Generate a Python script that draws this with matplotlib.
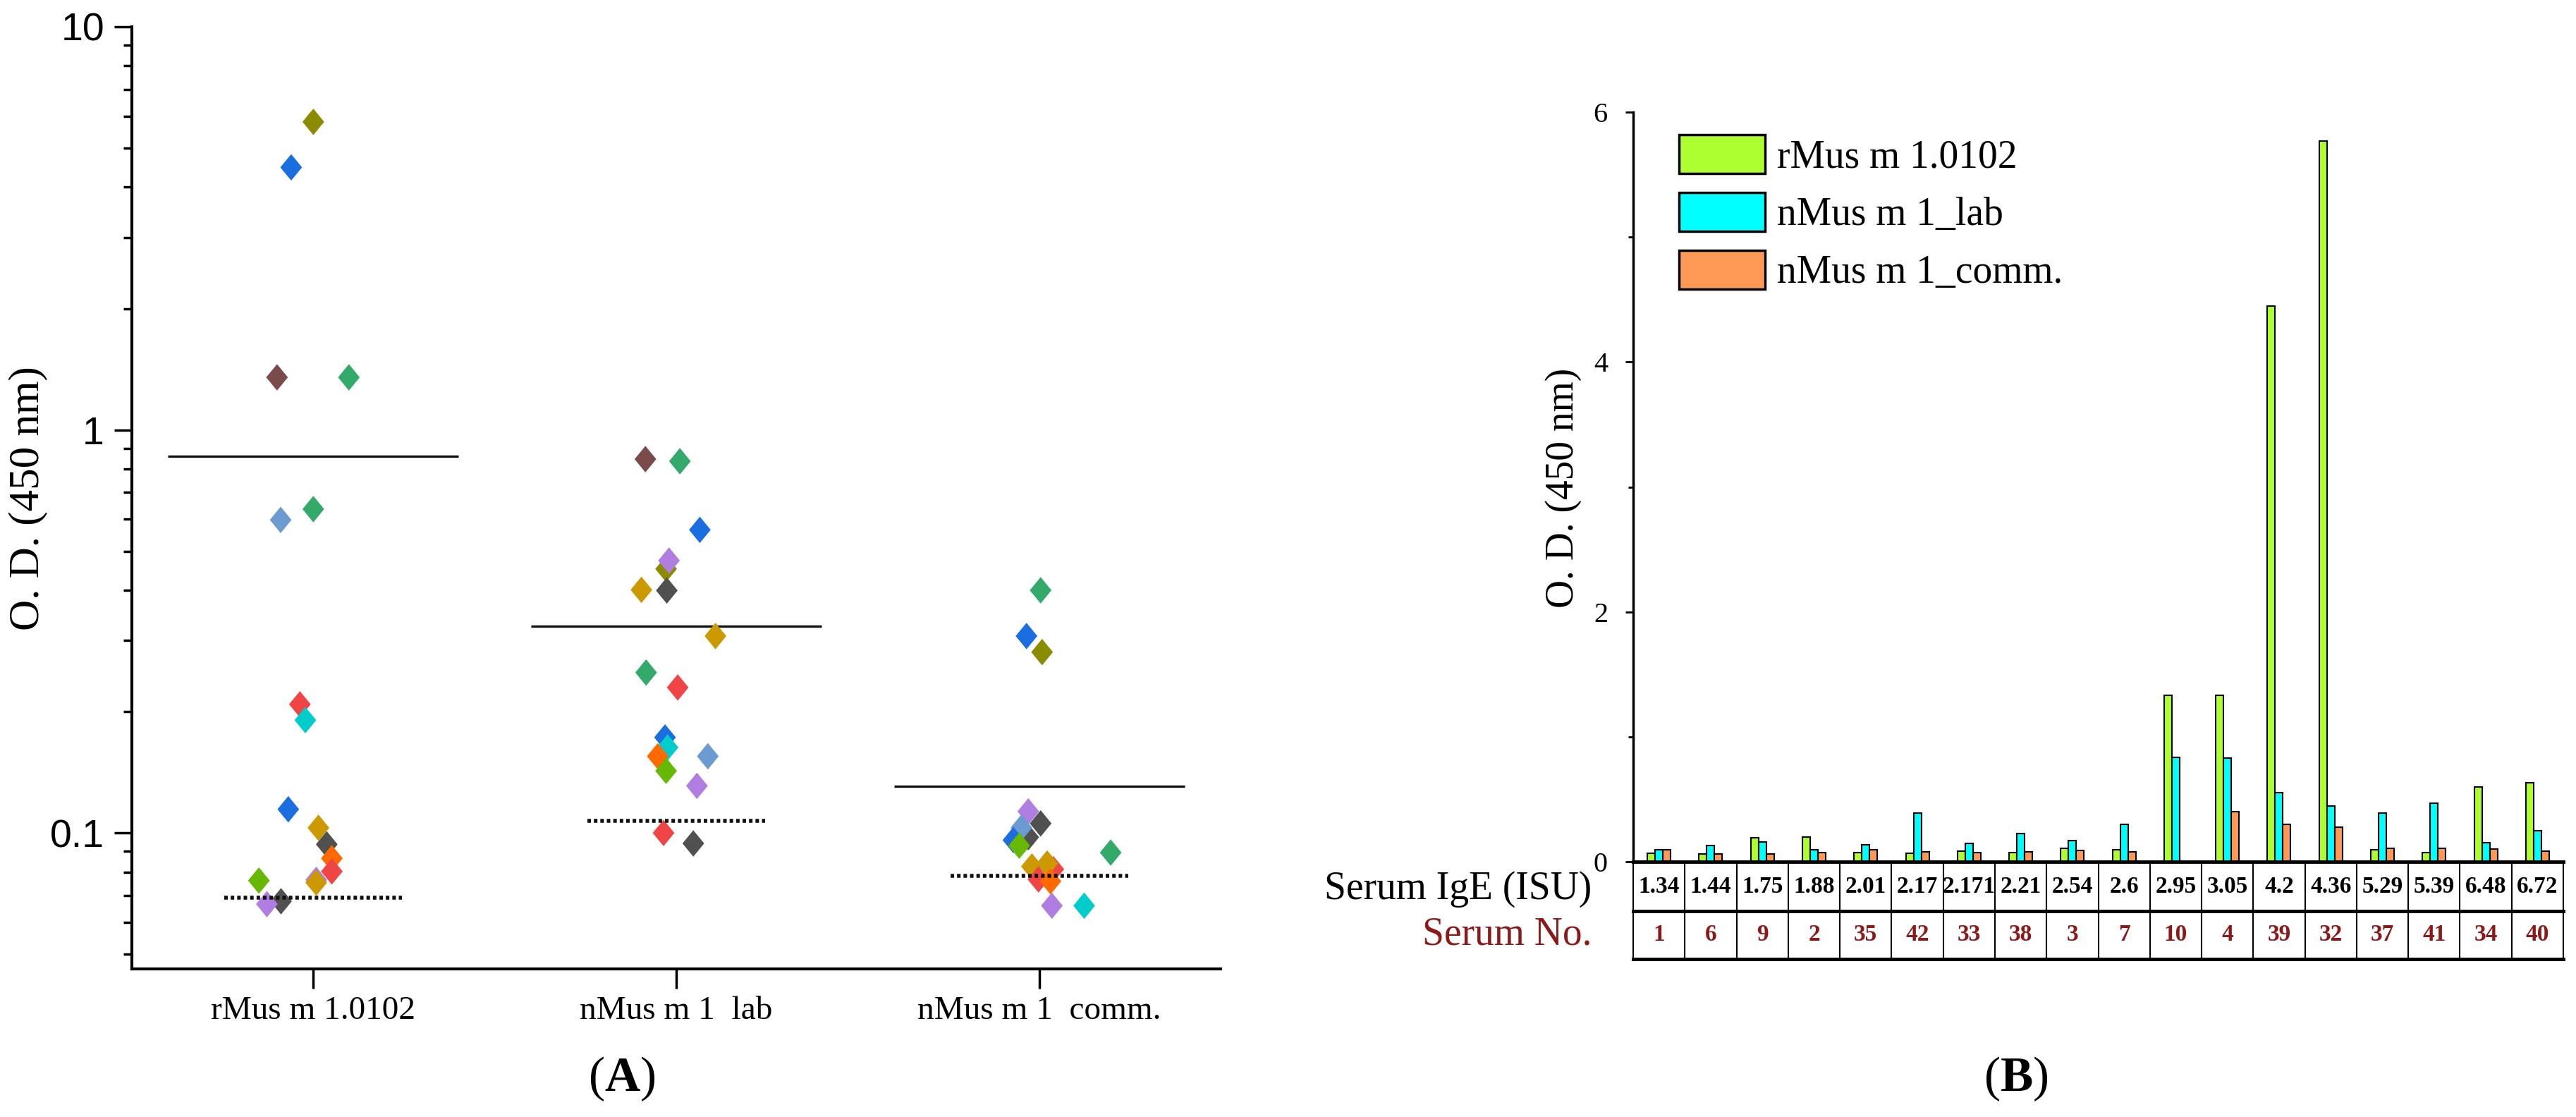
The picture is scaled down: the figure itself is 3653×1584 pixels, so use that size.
import numpy as np
import matplotlib
matplotlib.use("Agg")
import matplotlib.pyplot as plt
from matplotlib.path import Path
from matplotlib.ticker import FixedLocator, FixedFormatter, NullFormatter

plt.rcParams['font.family'] = ['Liberation Serif', 'DejaVu Serif']
plt.rcParams['mathtext.fontset'] = 'custom'
plt.rcParams['mathtext.bf'] = 'Liberation Serif:bold'

# ---------------- Panel A data ----------------
categories = ['rMus m 1.0102', 'nMus m 1  lab', 'nMus m 1  comm.']

OL, BL, BR, GR = '#8b8b00', '#1a6ee0', '#7b4b4b', '#33aa6a'
LB, RD, CY, GD = '#6b9bd0', '#f04545', '#00cccc', '#cc9900'
DG, OR, PU, YG = '#505050', '#ff6a00', '#b07ee0', '#66b800'

rmus_vals = [5.81, 4.48, 1.35, 1.35, 0.598, 0.636, 0.2085, 0.1905, 0.1145,
             0.0765, 0.103, 0.0937, 0.0865, 0.0803, 0.0753, 0.0762, 0.0677, 0.0666]
rmus_cols = [OL, BL, BR, GR, LB, GR, RD, CY, BL, PU, GD, DG, OR, RD, GD, YG, DG, PU]
rmus_jit = [0.0, -0.061, -0.10, 0.098, -0.09, 0.0, -0.037, -0.022, -0.069,
            0.008, 0.014, 0.037, 0.051, 0.051, 0.008, -0.15, -0.089, -0.128]

lab_vals = [0.846, 0.836, 0.565, 0.452, 0.474, 0.401, 0.3995, 0.308, 0.250,
            0.2296, 0.1726, 0.163, 0.155, 0.155, 0.1426, 0.1309, 0.100, 0.0942]
lab_cols = [BR, GR, BL, OL, PU, GD, DG, GD, GR, RD, BL, CY, OR, LB, YG, PU, RD, DG]
lab_jit = [-0.085, 0.01, 0.065, -0.028, -0.02, -0.096, -0.026, 0.108, -0.083,
           0.004, -0.031, -0.024, -0.051, 0.087, -0.028, 0.057, -0.035, 0.047]

comm_vals = [0.400, 0.308, 0.281, 0.0976, 0.1131, 0.1056, 0.1031, 0.0960, 0.093,
             0.0894, 0.0813, 0.0826, 0.0840, 0.0767, 0.0759, 0.066, 0.066]
comm_cols = [GR, BL, OL, DG, PU, DG, LB, BL, YG, GR, RD, GD, GD, RD, OR, PU, CY]
comm_jit = [0.004, -0.035, 0.008, -0.03, -0.03, 0.004, -0.049, -0.071, -0.055,
            0.197, 0.039, -0.02, 0.022, -0.002, 0.031, 0.035, 0.124]

group_means = [0.860, 0.326, 0.1305]
group_cutoffs = [0.069, 0.1073, 0.0784]

# ---------------- Panel B data ----------------
serum_ige = ['1.34', '1.44', '1.75', '1.88', '2.01', '2.17', '2.171', '2.21', '2.54',
             '2.6', '2.95', '3.05', '4.2', '4.36', '5.29', '5.39', '6.48', '6.72']
serum_no = ['1', '6', '9', '2', '35', '42', '33', '38', '3',
            '7', '10', '4', '39', '32', '37', '41', '34', '40']
od_rmus = [0.07, 0.063, 0.19, 0.20, 0.073, 0.068, 0.084, 0.073, 0.11,
           0.094, 1.33, 1.33, 4.45, 5.77, 0.094, 0.073, 0.60, 0.63]
od_lab = [0.094, 0.13, 0.16, 0.094, 0.136, 0.39, 0.146, 0.225, 0.167,
          0.30, 0.837, 0.827, 0.555, 0.445, 0.39, 0.47, 0.15, 0.25]
od_comm = [0.094, 0.063, 0.063, 0.073, 0.094, 0.078, 0.073, 0.078, 0.089,
           0.078, 0.0, 0.40, 0.30, 0.277, 0.105, 0.11, 0.10, 0.084]

W, H = 3653, 1584
fig = plt.figure(figsize=(W / 100, H / 100), dpi=100)


def fx(px):
    return px / W


def fy(py):
    return 1 - py / H


# ---------------- Panel A ----------------
diamond = Path([(0, 1), (0.82, 0), (0, -1), (-0.82, 0), (0, 1)], closed=True)

axa = fig.add_axes([fx(187), fy(1374), fx(1731) - fx(187), fy(38) - fy(1374)])
axa.set_yscale('log')
axa.set_xlim(0.5, 3.5)
axa.set_ylim(0.046, 10)

data_a = [(rmus_vals, rmus_cols, rmus_jit),
          (lab_vals, lab_cols, lab_jit),
          (comm_vals, comm_cols, comm_jit)]
for k, (vals, cols, jit) in enumerate(data_a):
    xc = k + 1
    axa.scatter(xc + np.array(jit), vals, marker=diamond, s=27 ** 2, c=cols,
                linewidths=0, zorder=3)
    axa.hlines(group_means[k], xc - 0.40, xc + 0.40, color='#111111', lw=2.4, zorder=2)
    axa.hlines(group_cutoffs[k], xc - 0.245, xc + 0.245, color='#111111', lw=4,
               linestyles=(0, (0.9, 0.75)), zorder=4)

for s in ['top', 'right']:
    axa.spines[s].set_visible(False)
for s in ['left', 'bottom']:
    axa.spines[s].set_linewidth(3)

axa.yaxis.set_major_locator(FixedLocator([0.1, 1, 10]))
axa.yaxis.set_major_formatter(FixedFormatter(['0.1', '1', '10']))
minors = [m * d for d in (0.01, 0.1, 1) for m in range(2, 10)]
axa.yaxis.set_minor_locator(FixedLocator(minors))
axa.yaxis.set_minor_formatter(NullFormatter())
axa.tick_params(axis='y', which='major', direction='out', length=18, width=2.5, pad=10)
axa.tick_params(axis='y', which='minor', direction='out', length=9, width=2.5)
for lab in axa.get_yticklabels():
    lab.set_family(['Liberation Sans Narrow', 'Liberation Sans', 'DejaVu Sans'])
    lab.set_fontsize(40)

axa.set_xticks([1, 2, 3])
axa.set_xticklabels(categories, fontsize=34)
axa.tick_params(axis='x', direction='out', length=20, width=2.5, pad=8)

fig.text(fx(40), fy(707), 'O. D. (450 nm)', rotation=90, ha='center', va='center', fontsize=44)
fig.text(fx(882), fy(1530), r'($\mathbf{A}$)', ha='center', va='center', fontsize=50)

# ---------------- Panel B ----------------
axb = fig.add_axes([fx(2316), fy(1222), fx(3635) - fx(2316), fy(159) - fy(1222)])
x = np.arange(len(serum_no))
bw = 0.15
axb.bar(x - bw, od_rmus, bw, color='#adff2f', edgecolor='black', lw=1.5, label='rMus m 1.0102')
axb.bar(x, od_lab, bw, color='#00ffff', edgecolor='black', lw=1.5, label='nMus m 1_lab')
axb.bar(x + bw, od_comm, bw, color='#ff9955', edgecolor='black', lw=1.5, label='nMus m 1_comm.')
axb.set_xlim(-0.5, len(serum_no) - 0.5)
axb.set_ylim(0, 6)
for s in ['top', 'right']:
    axb.spines[s].set_visible(False)
axb.spines['left'].set_linewidth(2.5)
axb.spines['bottom'].set_linewidth(3.5)
axb.set_xticks([])
axb.set_yticks([0, 2, 4, 6])
axb.set_yticks([1, 3, 5], minor=True)
axb.tick_params(axis='y', which='major', direction='out', length=8, width=2, labelsize=29, pad=18)
axb.tick_params(axis='y', which='minor', direction='out', length=5, width=2)
leg = axb.legend(loc='upper left', bbox_to_anchor=(0.045, 0.975), frameon=False, fontsize=40,
                 handlelength=2.2, handleheight=1.15, labelspacing=0.42, handletextpad=0.3,
                 borderaxespad=0.1, borderpad=0)
for h in leg.legend_handles:
    h.set_linewidth(2.5)

fig.text(fx(2217), fy(692), 'O. D. (450 nm)', rotation=90, ha='center', va='center', fontsize=40)

# table below bars
axt = fig.add_axes([fx(2316), fy(1360), fx(3635) - fx(2316), fy(1223) - fy(1360)])
axt.set_xlim(-0.5, len(serum_no) - 0.5)
axt.set_ylim(0, 2)
axt.axis('off')
dark_red = '#8a1a1a'
axt.axhline(1, color='black', lw=3.5, clip_on=False)
axt.axhline(0, color='black', lw=3.5, clip_on=False)
axt.vlines(np.arange(-0.5, len(serum_no)), 0, 2, color='black', lw=1.5, clip_on=False)
for i, (ige, no) in enumerate(zip(serum_ige, serum_no)):
    axt.text(i, 1.5, ige, ha='center', va='center', fontsize=24, fontweight='bold')
    axt.text(i, 0.5, no, ha='center', va='center', fontsize=24, fontweight='bold', color=dark_red)
axt.text(-1.3, 1.45, 'Serum IgE (ISU)', ha='right', va='center', fontsize=40, clip_on=False)
axt.text(-1.3, 0.5, 'Serum No.', ha='right', va='center', fontsize=40, color=dark_red, clip_on=False)

fig.text(fx(2859), fy(1530), r'($\mathbf{B}$)', ha='center', va='center', fontsize=50)

fig.savefig('out.png', dpi=100)
